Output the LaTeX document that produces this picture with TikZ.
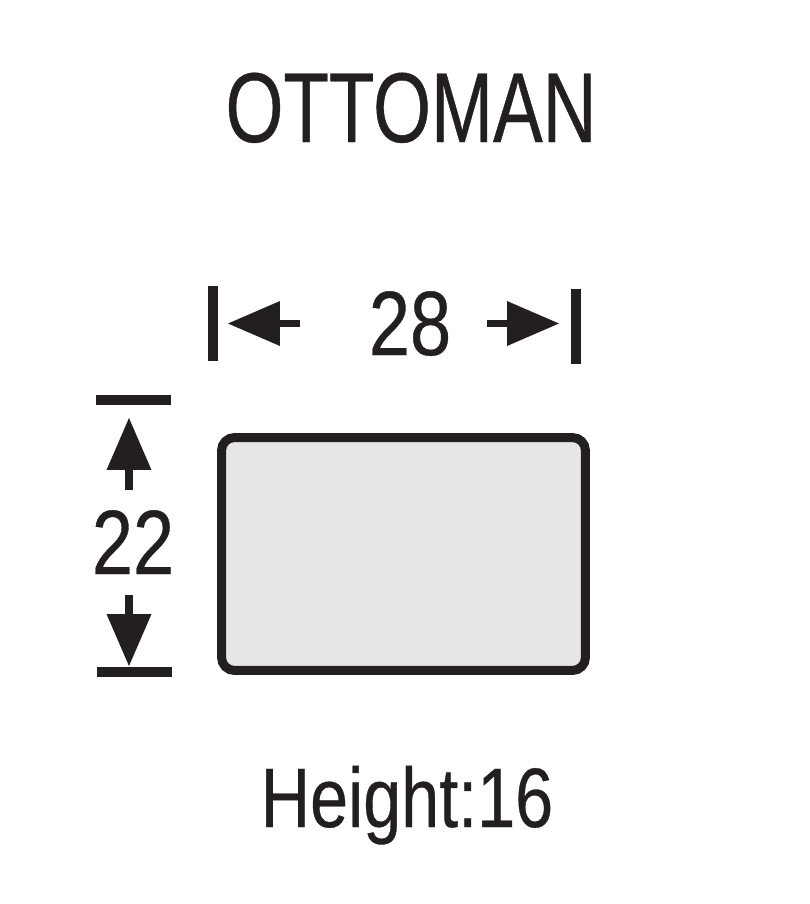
\documentclass[tikz,border=0pt]{standalone}
\usepackage{fontspec}
\usetikzlibrary{arrows.meta}
\newfontfamily\titlefont[FakeStretch=0.75, FakeBold=0.4]{Liberation Sans}
\newfontfamily\labelfont[FakeStretch=0.81, FakeBold=0.4]{Liberation Sans}
\definecolor{ink}{HTML}{231F20}
\definecolor{cushion}{HTML}{E6E6E8}

\begin{document}
\begin{tikzpicture}[x=0.02cm, y=-0.02cm,
    dimarrow/.style = {draw=ink, line width=0.15cm, -{Triangle[length=1.04cm, width=0.9cm, line width=0pt]}},
    dimbar/.style = {draw=ink, line width=0.19cm},
    dimlabel/.style = {text=ink, anchor=base, inner sep=0pt, font=\labelfont\fontsize{52}{55}\selectfont}]
                \useasboundingbox (0,0) rectangle (810,904);

                \node[text=ink, anchor=base, inner sep=0pt, font=\titlefont\fontsize{56.5}{60}\selectfont] at (411,142) (title) {OTTOMAN};

                \node[draw=ink, fill=cushion, line width=0.18cm, rounded corners=0.26cm, minimum width=7.28cm, minimum height=4.66cm] at (403.5,554) (seat) {};

                \node[dimlabel] at (410,355) (width) {28};
                \node[dimlabel] at (133,574) (depth) {22};
                \node[dimlabel, font=\labelfont\fontsize{48}{50}\selectfont] at (407,827) (height) {Height:16};

                % width
                \draw[dimbar] (213,286) -- (213,361);
                \draw[dimbar] (576,289) -- (576,364);
                \coordinate (wl) at (300,323.5);
                \coordinate (wltip) at (228,323.5);
                \coordinate (wr) at (487,323.5);
                \coordinate (wrtip) at (559,323.5);
                \draw[dimarrow] (wl) -- (wltip);
                \draw[dimarrow] (wr) -- (wrtip);

                % depth
                \draw[dimbar] (96,400) -- (171,400);
                \draw[dimbar] (97,672) -- (172,672);
                \coordinate (dt) at (129,490);
                \coordinate (dttip) at (129,418);
                \coordinate (db) at (129,595);
                \coordinate (dbtip) at (129,666);
                \draw[dimarrow] (dt) -- (dttip);
                \draw[dimarrow] (db) -- (dbtip);
            \end{tikzpicture}
\end{document}
